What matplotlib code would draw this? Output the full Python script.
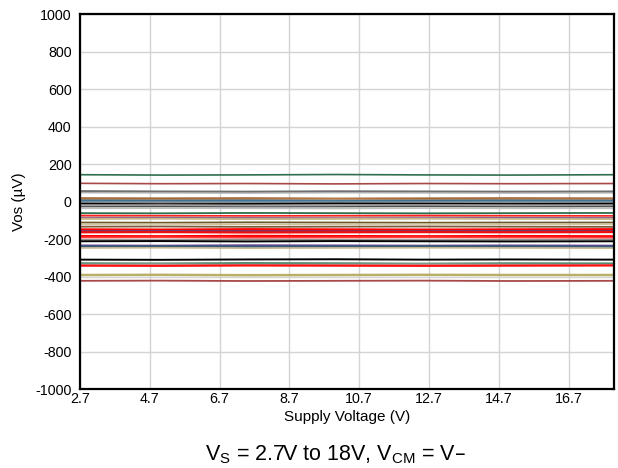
import numpy as np
import matplotlib
matplotlib.use("Agg")
import matplotlib.pyplot as plt

plt.rcParams['font.family'] = ['Liberation Sans', 'DejaVu Sans']
plt.rcParams['axes.unicode_minus'] = False

# supply voltage sample points (V)
vsupply = [2.7, 5.0, 7.5, 10.0, 12.5, 15.0, 18.0]

# offset voltage per unit (uV) at each supply point, with trace colour
units = [
    ([143, 141, 142, 144, 142, 141, 143], '#2f6e4f', 1.2),
    ([97, 95, 96, 94, 96, 95, 96], '#a84848', 1.2),
    ([55, 53, 52, 54, 53, 52, 53], '#707070', 1.6),
    ([47, 46, 45, 47, 46, 45, 46], '#b0b0b0', 1.0),
    ([18, 17, 18, 16, 17, 18, 17], '#9a5a2a', 1.3),
    ([12, 11, 12, 13, 11, 12, 12], '#c8905a', 1.0),
    ([5, 4, 5, 3, 4, 5, 4], '#3f6f8f', 1.6),
    ([0, -1, 0, 1, -1, 0, 0], '#5a8fb0', 1.0),
    ([-6, -5, -7, -6, -5, -6, -6], '#8a8a8a', 1.3),
    ([-12, -14, -13, -11, -12, -13, -12], '#000000', 1.3),
    ([-20, -19, -21, -20, -19, -20, -21], '#a0a0a0', 1.3),
    ([-28, -27, -29, -28, -26, -28, -27], '#505050', 1.0),
    ([-36, -35, -36, -37, -35, -36, -36], '#c0c0c0', 1.3),
    ([-62, -63, -61, -62, -63, -62, -61], '#2f6e4f', 1.3),
    ([-75, -76, -77, -76, -75, -76, -77], '#ff2020', 1.3),
    ([-82, -81, -83, -82, -81, -82, -83], '#e08070', 1.0),
    ([-88, -87, -88, -89, -88, -87, -88], '#7a4a8a', 1.0),
    ([-93, -92, -94, -93, -92, -93, -94], '#c8b888', 1.3),
    ([-112, -113, -111, -112, -113, -112, -112], '#6b5a30', 1.3),
    ([-121, -120, -122, -121, -120, -121, -121], '#d0c090', 1.0),
    ([-134, -133, -135, -134, -133, -134, -135], '#7a5a3a', 1.3),
    ([-151, -152, -150, -151, -152, -151, -150], '#ff0000', 2.2),
    ([-158, -157, -158, -159, -158, -157, -158], '#604080', 1.3),
    ([-164, -163, -165, -164, -163, -164, -163], '#ee1010', 1.6),
    ([-185, -186, -184, -185, -186, -185, -186], '#ff0000', 1.8),
    ([-192, -191, -193, -192, -191, -192, -193], '#ff4040', 1.3),
    ([-204, -205, -203, -204, -205, -204, -203], '#909090', 1.0),
    ([-212, -211, -213, -211, -212, -213, -212], '#000000', 1.4),
    ([-234, -235, -233, -234, -235, -234, -235], '#5a4a90', 1.3),
    ([-240, -239, -241, -240, -239, -240, -241], '#3a5a7a', 1.3),
    ([-248, -247, -249, -248, -247, -248, -249], '#c0b080', 1.0),
    ([-310, -311, -309, -308, -310, -309, -310], '#000000', 1.4),
    ([-329, -330, -328, -329, -331, -329, -330], '#3f8060', 1.3),
    ([-335, -334, -336, -335, -334, -335, -336], '#b0b0b0', 1.0),
    ([-342, -343, -341, -342, -343, -342, -341], '#ff1010', 1.6),
    ([-392, -391, -393, -392, -391, -392, -392], '#b8b068', 1.8),
    ([-423, -422, -424, -423, -422, -424, -423], '#a84848', 1.3),
]

xticks = [2.7, 4.7, 6.7, 8.7, 10.7, 12.7, 14.7, 16.7]
yticks = list(range(-1000, 1001, 200))

fig = plt.figure(figsize=(6.18, 4.68), dpi=100)
ax = fig.add_axes([0.1294, 0.1688, 0.8641, 0.8012])

for vals, col, lw in units:
    ax.plot(vsupply, vals, color=col, lw=lw, solid_capstyle='butt')

ax.set_xlim(2.7, 18)
ax.set_ylim(-1000, 1000)
ax.set_xticks(xticks)
ax.set_xticklabels([str(t) for t in xticks])
ax.set_yticks(yticks)
ax.grid(True, color='#d4d4d4', lw=1.0)
ax.set_axisbelow(True)
ax.tick_params(length=0, labelsize=10.3)
ax.tick_params(axis='y', pad=6)
ax.tick_params(axis='x', pad=2)
for s in ax.spines.values():
    s.set_linewidth(1.6)
    s.set_color('black')

ax.set_xlabel('Supply Voltage (V)', fontsize=11, labelpad=3)
ax.set_ylabel('Vos (µV)', fontsize=11, labelpad=7)

fig.text(0.543, 0.017, 'V$_\\mathregular{S}$ = 2.7V to 18V, V$_\\mathregular{CM}$ = V\u2013',
         ha='center', va='baseline', fontsize=15.5)

fig.savefig('out.png', dpi=100)
